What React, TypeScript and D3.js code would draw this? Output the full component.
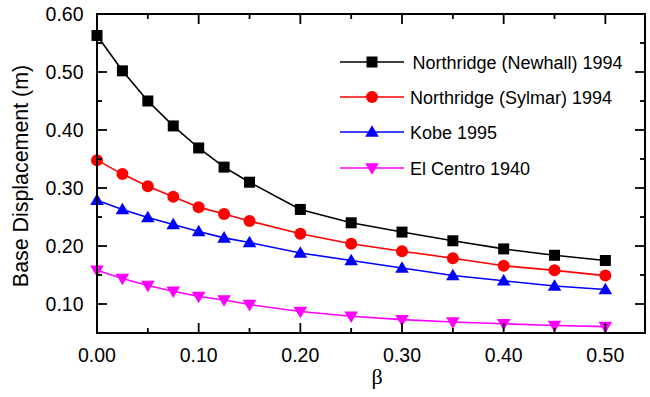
import React from "react";
import * as d3 from "d3";

const betas = [0, 0.025, 0.05, 0.075, 0.1, 0.125, 0.15, 0.2, 0.25, 0.3, 0.35, 0.4, 0.45, 0.5];
const newhall = [0.563, 0.502, 0.450, 0.407, 0.369, 0.336, 0.310, 0.263, 0.240, 0.224, 0.209, 0.195, 0.184, 0.175];
const sylmar = [0.348, 0.324, 0.303, 0.285, 0.267, 0.255, 0.243, 0.221, 0.204, 0.191, 0.179, 0.166, 0.158, 0.149];
const kobe = [0.279, 0.263, 0.249, 0.237, 0.225, 0.214, 0.206, 0.188, 0.175, 0.162, 0.149, 0.140, 0.131, 0.125];
const elCentro = [0.158, 0.144, 0.132, 0.122, 0.113, 0.107, 0.099, 0.087, 0.079, 0.073, 0.069, 0.066, 0.063, 0.061];

const seriesNames = ["Northridge (Newhall) 1994", "Northridge (Sylmar) 1994", "Kobe 1995", "El Centro 1940"];
const seriesColors = ["#000000", "#ff0000", "#0000ff", "#ff00ff"];
const seriesMarkers = ["square", "circle", "triangle", "triangleDown"];
const seriesValues = [newhall, sylmar, kobe, elCentro];

const xTicks = [0, 0.1, 0.2, 0.3, 0.4, 0.5];
const yTicks = [0.1, 0.2, 0.3, 0.4, 0.5, 0.6];

const W = 650, H = 397;
const left = 97, right = 645, top = 14, bottom = 333;
const font = "'Liberation Sans', Arial, sans-serif";

function Marker({ type, x, y, color }: { type: string; x: number; y: number; color: string }) {
  if (type === "square") return <rect x={x - 5.5} y={y - 5.5} width={11} height={11} fill={color} />;
  if (type === "circle") return <circle cx={x} cy={y} r={6} fill={color} />;
  if (type === "triangle") {
    const s = 6.8;
    return <path d={`M${x},${y - s}L${x + s},${y + s * 0.7}L${x - s},${y + s * 0.7}Z`} fill={color} />;
  }
  const s = 6.8;
  return <path d={`M${x},${y + s}L${x + s},${y - s * 0.7}L${x - s},${y - s * 0.7}Z`} fill={color} />;
}

export default function App() {
  const x = d3.scaleLinear().domain([0, 0.539]).range([left, right]);
  const y = d3.scaleLinear().domain([0.05, 0.6]).range([bottom, top]);
  const line = d3.line<number>().x((_, i) => x(betas[i])).y((d) => y(d));

  const xMinor = d3.range(0, 0.54, 0.05);
  const yMinor = d3.range(0.05, 0.601, 0.05);

  return (
    <svg width={W} height={H} style={{ position: "absolute", left: 0, top: 0, background: "#fff" }}>
      {seriesValues.map((vals, si) => (
        <g key={si}>
          <path d={line(vals) || ""} fill="none" stroke={seriesColors[si]} strokeWidth={1.6} />
          {vals.map((v, i) => (
            <Marker key={i} type={seriesMarkers[si]} x={x(betas[i])} y={y(v)} color={seriesColors[si]} />
          ))}
        </g>
      ))}
      <rect x={left} y={top} width={right - left} height={bottom - top} fill="none" stroke="#000" strokeWidth={2} />
      {xMinor.map((t, i) => {
        const major = Math.abs(t * 10 - Math.round(t * 10)) < 1e-6;
        const len = major ? 10 : 5;
        return (
          <g key={"xt" + i}>
            <line x1={x(t)} x2={x(t)} y1={bottom} y2={bottom - len} stroke="#000" strokeWidth={1.8} />
            <line x1={x(t)} x2={x(t)} y1={top} y2={top + len} stroke="#000" strokeWidth={1.8} />
          </g>
        );
      })}
      {yMinor.map((t, i) => {
        const major = Math.abs(t * 10 - Math.round(t * 10)) < 1e-6;
        const len = major ? 10 : 5;
        return (
          <g key={"yt" + i}>
            <line x1={left} x2={left + len} y1={y(t)} y2={y(t)} stroke="#000" strokeWidth={1.8} />
            <line x1={right} x2={right - len} y1={y(t)} y2={y(t)} stroke="#000" strokeWidth={1.8} />
          </g>
        );
      })}
      {xTicks.map((t) => (
        <text key={"xl" + t} x={x(t)} y={362} textAnchor="middle" fontFamily={font} fontSize={19.5} fill="#000">
          {d3.format(".2f")(t)}
        </text>
      ))}
      {yTicks.map((t) => (
        <text key={"yl" + t} x={83.5} y={y(t) + 7} textAnchor="end" fontFamily={font} fontSize={19.5} fill="#000">
          {d3.format(".2f")(t)}
        </text>
      ))}
      <text x={377} y={384} textAnchor="middle" fontFamily="'Liberation Serif', 'Times New Roman', serif" fontSize={22} fill="#000">
        β
      </text>
      <text
        transform={`translate(28, 176) rotate(-90)`}
        textAnchor="middle"
        fontFamily={font}
        fontSize={21.4}
        fill="#000"
      >
        Base Displacement (m)
      </text>
      {seriesNames.map((name, i) => {
        const ly = [62, 97, 132, 168][i];
        return (
          <g key={"lg" + i}>
            <line x1={340} x2={404} y1={ly} y2={ly} stroke={seriesColors[i]} strokeWidth={1.6} />
            <Marker type={seriesMarkers[i]} x={372} y={ly} color={seriesColors[i]} />
            <text x={i === 0 ? 412.5 : 410} y={ly + 6.5} fontFamily={font} fontSize={18} fill="#000">
              {name}
            </text>
          </g>
        );
      })}
    </svg>
  );
}
